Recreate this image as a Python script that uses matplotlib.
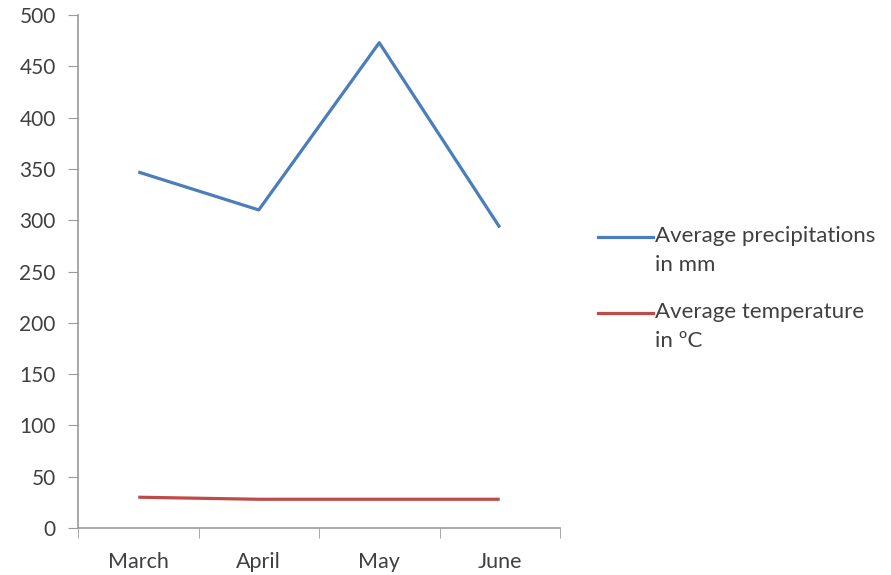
import matplotlib
matplotlib.use("Agg")
import matplotlib.pyplot as plt
from matplotlib.ticker import FixedLocator
from matplotlib.lines import Line2D

plt.rcParams['font.family'] = ['Lato', 'DejaVu Sans']

months = ["March", "April", "May", "June"]
precip = [347, 310, 473, 293]
temp = [30, 28, 28, 28]
labels = ["Average precipitations\nin mm", "Average temperature\nin ºC"]
colors = ["#4a7ebb", "#be4b48"]
yticks = list(range(0, 501, 50))

W, H = 891, 575
fig = plt.figure(figsize=(W/100, H/100), dpi=100)
ax = fig.add_axes([78/W, 1-528/H, (560-78)/W, (528-15)/H])

x = list(range(len(months)))
ax.plot(x, precip, color=colors[0], lw=2.3, solid_capstyle="butt")
ax.plot(x, temp, color=colors[1], lw=2.3, solid_capstyle="butt")

ax.set_xlim(-0.5, 3.5)
ax.set_ylim(0, 500)
ax.set_yticks(yticks)
ax.set_xticks(x)
ax.set_xticklabels(months)
ax.xaxis.set_minor_locator(FixedLocator([-0.5, 0.5, 1.5, 2.5, 3.5]))
ax.tick_params(axis="x", which="major", length=0, pad=17, labelsize=15.5, labelcolor="#404040")
ax.tick_params(axis="x", which="minor", length=7, color="#9a9a9a", direction="out")
ax.tick_params(axis="y", length=7, color="#9a9a9a", labelsize=15, labelcolor="#404040", pad=9)

for s in ["top", "right"]:
    ax.spines[s].set_visible(False)
for s in ["left", "bottom"]:
    ax.spines[s].set_color("#9a9a9a")
    ax.spines[s].set_linewidth(1.2)

# legend
leg_y = [237, 313]
for lab, c, yy in zip(labels, colors, leg_y):
    fig.add_artist(Line2D([598/W, 653/W], [1-yy/H, 1-yy/H], color=c, lw=2.3,
                          transform=fig.transFigure))
    fig.text(655/W, 1-(yy-11)/H, lab, ha="left", va="top", fontsize=16,
             color="#404040", linespacing=1.55)

fig.savefig("out.png", dpi=100, facecolor="white")
